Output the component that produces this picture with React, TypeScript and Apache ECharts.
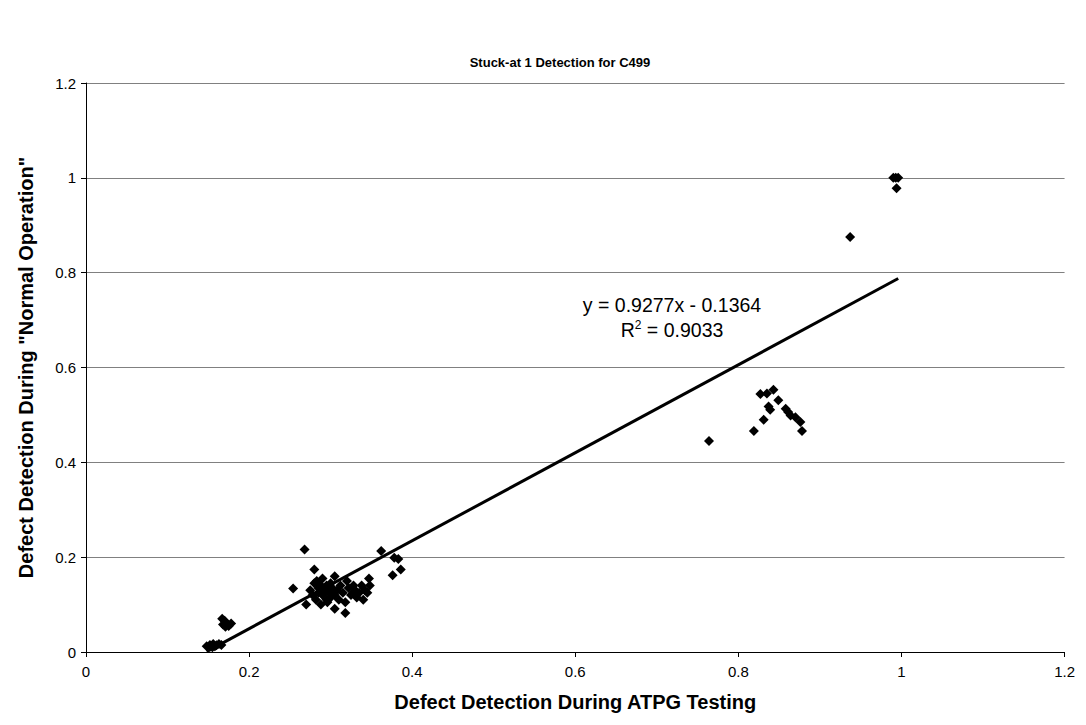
import React, { useEffect, useRef } from "react";
import * as echarts from "echarts";

const title = "Stuck-at 1 Detection for C499";
const xName = "Defect Detection During ATPG Testing";
const yName = 'Defect Detection During "Normal Operation"';

const xTicks = [0, 0.2, 0.4, 0.6, 0.8, 1, 1.2];

// [x, y] points
const lowCluster: number[][] = [
  [0.148, 0.012], [0.152, 0.015], [0.155, 0.01], [0.156, 0.017], [0.16, 0.014],
  [0.163, 0.017], [0.166, 0.015], [0.158, 0.012],
];
const lowUpper: number[][] = [
  [0.167, 0.07], [0.17, 0.066], [0.172, 0.061], [0.168, 0.058], [0.175, 0.055],
  [0.178, 0.06], [0.171, 0.053],
];
const midCluster: number[][] = [
  [0.268, 0.216], [0.362, 0.213], [0.378, 0.199], [0.383, 0.196], [0.386, 0.174],
  [0.376, 0.162], [0.254, 0.134], [0.28, 0.174], [0.347, 0.155], [0.305, 0.091],
  [0.318, 0.082],
  [0.27, 0.1], [0.275, 0.13], [0.278, 0.12], [0.28, 0.145], [0.282, 0.11],
  [0.285, 0.125], [0.285, 0.135], [0.288, 0.1], [0.29, 0.12], [0.29, 0.155],
  [0.292, 0.13], [0.295, 0.11], [0.295, 0.14], [0.298, 0.125], [0.3, 0.115],
  [0.3, 0.145], [0.302, 0.135], [0.305, 0.12], [0.305, 0.16], [0.308, 0.13],
  [0.31, 0.11], [0.312, 0.14], [0.315, 0.125], [0.318, 0.105], [0.32, 0.15],
  [0.322, 0.135], [0.325, 0.12], [0.328, 0.14], [0.33, 0.13], [0.332, 0.115],
  [0.335, 0.125], [0.338, 0.14], [0.34, 0.11], [0.342, 0.13], [0.345, 0.125],
  [0.348, 0.14], [0.283, 0.15], [0.296, 0.105], [0.288, 0.14], [0.3, 0.13],
];
const highCluster: number[][] = [
  [0.764, 0.445], [0.819, 0.466], [0.831, 0.49], [0.827, 0.544], [0.835, 0.545],
  [0.843, 0.553], [0.837, 0.518], [0.839, 0.511], [0.849, 0.531], [0.858, 0.513],
  [0.861, 0.506], [0.864, 0.499], [0.87, 0.495], [0.876, 0.485], [0.878, 0.466],
];
const topCluster: number[][] = [
  [0.937, 0.875], [0.99, 1.0], [0.993, 1.0], [0.996, 1.0], [0.994, 0.978],
];

const slope = 0.9277;
const intercept = -0.1364;
const rSquared = "0.9033";

export default function App() {
  const ref = useRef<HTMLDivElement>(null);
  useEffect(() => {
    if (!ref.current) return;
    const chart = echarts.init(ref.current, null, { renderer: "svg" });
    const points = [...lowCluster, ...lowUpper, ...midCluster, ...highCluster, ...topCluster];
    const xs = points.map((p) => p[0]);
    const minX = Math.min(...xs);
    const maxX = Math.max(...xs);
    const trend = [
      [minX, slope * minX + intercept],
      [maxX, slope * maxX + intercept],
    ];
    const font = "Liberation Sans, Arial, sans-serif";
    chart.setOption({
      animation: false,
      backgroundColor: "#ffffff",
      textStyle: { fontFamily: font },
      title: {
        text: title,
        left: 547,
        textAlign: "center",
        top: 43,
        textStyle: { fontFamily: font, fontWeight: "bold", fontSize: 13, color: "#000" },
      },
      grid: { left: 69, right: 6, top: 75, bottom: 60, containLabel: false },
      xAxis: {
        type: "value",
        min: 0,
        max: 1.2,
        interval: 0.2,
        name: xName,
        nameLocation: "middle",
        nameGap: 40,
        nameTextStyle: { fontFamily: font, fontWeight: "bold", fontSize: 20, color: "#000" },
        axisLine: { show: true, lineStyle: { color: "#000", width: 1 } },
        axisTick: { show: true, length: 5, lineStyle: { color: "#000" } },
        axisLabel: {
          fontFamily: font,
          fontSize: 15,
          color: "#000",
          margin: 12,
          formatter: (v: number) => String(xTicks.find((t) => Math.abs(t - v) < 1e-9) ?? v),
        },
        splitLine: { show: false },
      },
      yAxis: {
        type: "value",
        min: 0,
        max: 1.2,
        interval: 0.2,
        name: yName,
        nameLocation: "middle",
        nameGap: 50,
        nameTextStyle: { fontFamily: font, fontWeight: "bold", fontSize: 20, color: "#000" },
        axisLine: { show: true, lineStyle: { color: "#000", width: 1 } },
        axisTick: { show: true, length: 5, lineStyle: { color: "#000" } },
        axisLabel: {
          fontFamily: font,
          fontSize: 15,
          color: "#000",
          margin: 10,
          formatter: (v: number) => String(Math.round(v * 10) / 10),
        },
        splitLine: { show: true, lineStyle: { color: "#808080", width: 1 } },
      },
      series: [
        {
          type: "scatter",
          data: points,
          symbol: "diamond",
          symbolSize: 10,
          itemStyle: { color: "#000", opacity: 1 },
        },
        {
          type: "line",
          data: trend,
          symbol: "none",
          lineStyle: { color: "#000", width: 3 },
          z: 3,
        },
      ],
      graphic: [
        {
          type: "text",
          x: 664,
          y: 297,
          style: {
            text: "y = " + slope + "x - " + Math.abs(intercept),
            fontFamily: font,
            fontSize: 19.5,
            fill: "#000",
            align: "center",
            verticalAlign: "middle",
          },
        },
        {
          type: "text",
          x: 664,
          y: 322,
          style: {
            text: "{a|R}{s|2}{a| = " + rSquared + "}",
            fontFamily: font,
            fill: "#000",
            align: "center",
            verticalAlign: "middle",
            rich: {
              a: { fontFamily: font, fontSize: 19.5, fill: "#000" },
              s: { fontFamily: font, fontSize: 12, fill: "#000", verticalAlign: "top", padding: [0, 0, 10, 0] },
            },
          },
        },
      ],
    });
    return () => chart.dispose();
  }, []);
  return <div ref={ref} style={{ width: 1070, height: 709 }} />;
}
